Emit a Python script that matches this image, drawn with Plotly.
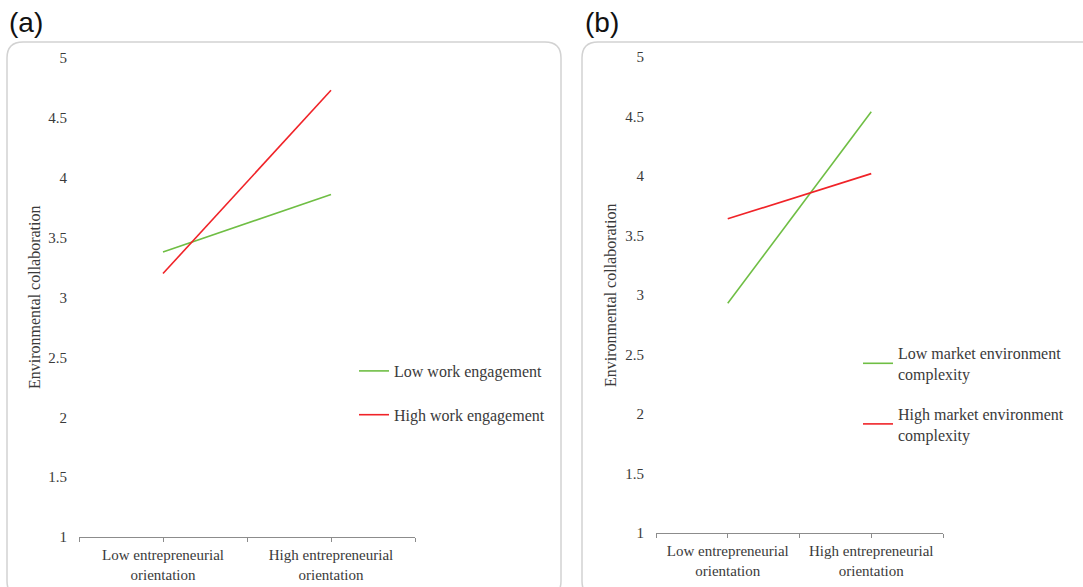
import plotly.graph_objects as go

W, H = 1083, 587

# ---- data ----
categories = ["Low entrepreneurial<br>orientation", "High entrepreneurial<br>orientation"]
a_low_work = [3.38, 3.86]
a_high_work = [3.20, 4.73]
b_low_market = [2.93, 4.54]
b_high_market = [3.64, 4.02]
y_ticks = [1, 1.5, 2, 2.5, 3, 3.5, 4, 4.5, 5]
x_pos = [0, 1]

GREEN = "#6FBE44"
RED = "#F02328"
SERIF = "Liberation Serif, Times New Roman, serif"
TXT = "#3A3A3A"


def px(x):
    return x / W


def py(y):
    return 1 - y / H


fig = go.Figure()
fig.add_trace(go.Scatter(x=x_pos, y=a_low_work, mode="lines", name="Low work engagement",
                         line=dict(color=GREEN, width=1.6), xaxis="x", yaxis="y",
                         legend="legend", legendgroup="a1"))
fig.add_trace(go.Scatter(x=x_pos, y=a_high_work, mode="lines", name="High work engagement",
                         line=dict(color=RED, width=1.6), xaxis="x", yaxis="y",
                         legend="legend", legendgroup="a2"))
fig.add_trace(go.Scatter(x=x_pos, y=b_low_market, mode="lines",
                         name="Low market environment<br>complexity",
                         line=dict(color=GREEN, width=1.6), xaxis="x2", yaxis="y2",
                         legend="legend2", legendgroup="b1"))
fig.add_trace(go.Scatter(x=x_pos, y=b_high_market, mode="lines",
                         name="High market environment<br>complexity",
                         line=dict(color=RED, width=1.6), xaxis="x2", yaxis="y2",
                         legend="legend2", legendgroup="b2"))

xcommon = dict(range=[-0.5, 1.5], tickvals=[-0.5, 0, 0.5, 1, 1.5],
               ticktext=["", categories[0], "", categories[1], ""],
               showline=True, linecolor="#8C8C8C", linewidth=1,
               ticks="outside", ticklen=4, tickcolor="#8C8C8C", tickwidth=1,
               showgrid=False, zeroline=False, fixedrange=True, automargin=False,
               tickfont=dict(family=SERIF, size=15, color=TXT))
ycommon = dict(range=[1, 5], tickvals=y_ticks, showline=False, showgrid=False,
               zeroline=False, ticks="", ticklabelstandoff=11, automargin=False,
               fixedrange=True, tickfont=dict(family=SERIF, size=15, color=TXT))

fig.update_layout(
    width=W, height=H, margin=dict(l=0, r=0, t=0, b=0, autoexpand=False),
    paper_bgcolor="white", plot_bgcolor="white",
    xaxis=dict(domain=[px(79), px(415)], anchor="y", **xcommon),
    yaxis=dict(domain=[py(537), py(58)], anchor="x", **ycommon),
    xaxis2=dict(domain=[px(656), px(943)], anchor="y2", **xcommon),
    yaxis2=dict(domain=[py(533), py(57)], anchor="x2", **ycommon),
    legend=dict(x=px(354), y=py(354), xanchor="left", yanchor="top",
                font=dict(family=SERIF, size=16, color=TXT),
                bgcolor="rgba(0,0,0,0)", itemwidth=30, tracegroupgap=20,
                itemclick=False),
    legend2=dict(x=px(858), y=py(336), xanchor="left", yanchor="top",
                 font=dict(family=SERIF, size=16, color=TXT),
                 bgcolor="rgba(0,0,0,0)", itemwidth=30, tracegroupgap=16,
                 itemclick=False),
    showlegend=True,
)


def rounded_box(x0, y0, x1, y1, r):
    pts = [
        f"M {px(x0)} {py(y0 + r)}",
        f"Q {px(x0)} {py(y0)} {px(x0 + r)} {py(y0)}",
        f"L {px(x1 - r)} {py(y0)}",
        f"Q {px(x1)} {py(y0)} {px(x1)} {py(y0 + r)}",
        f"L {px(x1)} {py(y1 - r)}",
        f"Q {px(x1)} {py(y1)} {px(x1 - r)} {py(y1)}",
        f"L {px(x0 + r)} {py(y1)}",
        f"Q {px(x0)} {py(y1)} {px(x0)} {py(y1 - r)}",
        "Z",
    ]
    return " ".join(pts)


for box in [(7, 42, 561, 597, 16), (582, 42, 1100, 597, 16)]:
    fig.add_shape(type="path", xref="paper", yref="paper", path=rounded_box(*box),
                  line=dict(color="#D2D2D2", width=1.5), fillcolor="rgba(0,0,0,0)",
                  layer="below")

annots = [
    dict(text="(a)", x=px(26), y=py(22), font=dict(family="Liberation Sans, Arial", size=28, color="#111111")),
    dict(text="(b)", x=px(602), y=py(22), font=dict(family="Liberation Sans, Arial", size=28, color="#111111")),
    dict(text="Environmental collaboration", x=px(35), y=py(297), textangle=-90,
         font=dict(family=SERIF, size=16, color=TXT)),
    dict(text="Environmental collaboration", x=px(611), y=py(295), textangle=-90,
         font=dict(family=SERIF, size=16, color=TXT)),
]
for a in annots:
    fig.add_annotation(xref="paper", yref="paper", showarrow=False,
                       xanchor="center", yanchor="middle", **a)

post = ("document.body.style.margin='0';document.body.style.padding='0';"
        "document.body.style.overflow='hidden';"
        "var d=document.getElementById('{plot_id}');"
        "d.parentElement.style.position='absolute';"
        "d.parentElement.style.left='0';d.parentElement.style.top='0';")
fig.write_html("out.html", post_script=post, config={"displayModeBar": False})
